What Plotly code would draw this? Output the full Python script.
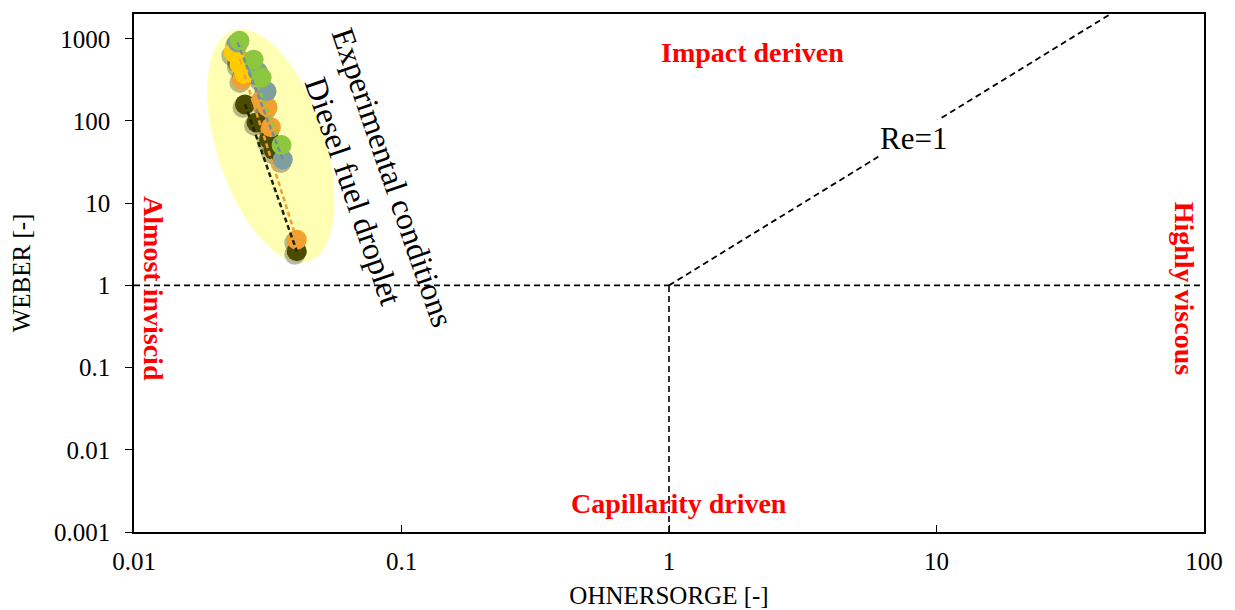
import numpy as np
import plotly.graph_objects as go

# ---- data (Ohnesorge, Weber) ----
dark_oh = [0.0260, 0.0287, 0.0320, 0.0333, 0.0406]
dark_we = [159, 96, 60, 44, 2.6]
orange_oh = [0.0248, 0.0253, 0.0300, 0.0316, 0.0325, 0.0406]
orange_we = [560, 320, 180, 147, 84, 3.6]
yellow_oh = [0.0236, 0.0248, 0.0259]
yellow_we = [678, 485, 370]
green_oh = [0.0248, 0.0280, 0.0300, 0.0356]
green_we = [946, 557, 338, 51]
teal_oh = [0.0244, 0.0290, 0.0313, 0.0360]
teal_we = [900, 400, 230, 34]

series = [
    ("dark", dark_oh, dark_we, "#4b4b00", "#222200"),
    ("orange", orange_oh, orange_we, "#f2a030", "#f2a030"),
    ("yellow", yellow_oh, yellow_we, "#ffcc00", "#ffcc00"),
    ("teal", teal_oh, teal_we, "#7f9f9f", "#6f8fa0"),
    ("green", green_oh, green_we, "#8dc63f", "#8dc63f"),
]

x_ticks = [0.01, 0.1, 1, 10, 100]
x_ticktext = ["0.01", "0.1", "1", "10", "100"]
y_ticks = [0.001, 0.01, 0.1, 1, 10, 100, 1000]
y_ticktext = ["0.001", "0.01", "0.1", "1", "10", "100", "1000"]

W, H = 1227, 602
ml, mr, mt, mb = 126, 31, 4, 78
xr = [-2, 2]
yr = [-3, np.log10(2000)]
px_per_dec_x = (W - ml - mr) / (xr[1] - xr[0])
px_per_dec_y = (H - mt - mb) / (yr[1] - yr[0])

fig = go.Figure()

# highlight ellipse (computed in log space)
t = np.linspace(0, 2 * np.pi, 200)
a, b = 122, 54  # semi axes in px
ang = np.deg2rad(18)
cx_log, cy_log = np.log10(0.0325), np.log10(50)
dx = (b * np.cos(t)) * np.cos(ang) + (a * np.sin(t)) * np.sin(ang)
dy = -(b * np.cos(t)) * np.sin(ang) + (a * np.sin(t)) * np.cos(ang)
ex = 10 ** (cx_log + dx / px_per_dec_x)
ey = 10 ** (cy_log - dy / px_per_dec_y)
fig.add_trace(go.Scatter(x=ex, y=ey, mode="lines", fill="toself",
                         fillcolor="rgba(255,255,130,0.6)", line=dict(width=0),
                         hoverinfo="skip", showlegend=False))

# reference lines
dash_ref = "6px,4px"
fig.add_trace(go.Scatter(x=[0.01, 100], y=[1, 1], mode="lines",
                         line=dict(color="black", width=1.6, dash=dash_ref), showlegend=False))
fig.add_trace(go.Scatter(x=[1, 1], y=[0.001, 1], mode="lines",
                         line=dict(color="black", width=1.6, dash=dash_ref), showlegend=False))
re_oh = [1, np.sqrt(2000)]
fig.add_trace(go.Scatter(x=re_oh, y=[o ** 2 for o in re_oh], mode="lines",
                         line=dict(color="black", width=1.8, dash=dash_ref), showlegend=False))

# shadows
sx = 10 ** (-2 / px_per_dec_x)
sy = 10 ** (-3 / px_per_dec_y)
for name, xs, ys, col, lcol in series:
    fig.add_trace(go.Scatter(x=[v * sx for v in xs], y=[v * sy for v in ys], mode="markers",
                             marker=dict(size=21, color="rgba(0,0,0,0.28)", line=dict(width=0)),
                             showlegend=False, hoverinfo="skip"))
# series markers
for name, xs, ys, col, lcol in series:
    fig.add_trace(go.Scatter(x=xs, y=ys, mode="markers",
                             marker=dict(size=20, color=col, line=dict(width=0)),
                             name=name, showlegend=False))
# trend lines
for name, xs, ys, col, lcol in series:
    fig.add_trace(go.Scatter(x=[xs[0], xs[-1]], y=[ys[0], ys[-1]], mode="lines",
                             line=dict(color=lcol, width=2.5, dash="5px,3px"),
                             showlegend=False, hoverinfo="skip"))

red_font = dict(family="Liberation Serif", size=28, color="red")
ann = [
    dict(x=np.log10(2.06), y=np.log10(676), text="<b>Impact deriven</b>", font=red_font),
    dict(x=np.log10(1.087), y=np.log10(0.00225), text="<b>Capillarity driven</b>", font=red_font),
    dict(x=np.log10(0.0118), y=np.log10(0.92), text="<b>Almost inviscid</b>", font=red_font, textangle=90),
    dict(x=np.log10(84.7), y=np.log10(0.92), text="<b>Highly viscous</b>", font=red_font, textangle=90),
    dict(x=np.log10(8.2), y=np.log10(62), text="Re=1",
         font=dict(family="Liberation Serif", size=31, color="black"), bgcolor="white"),
    dict(x=np.log10(0.078), y=np.log10(17), text="Experimental conditions<br>Diesel fuel droplet",
         font=dict(family="Liberation Serif", size=32, color="black"), textangle=71),
]
for a_ in ann:
    a_.update(xref="x", yref="y", showarrow=False)
    fig.add_annotation(**a_)

fig.update_layout(
    width=W, height=H,
    margin=dict(l=ml, r=mr, t=mt, b=mb),
    plot_bgcolor="white", paper_bgcolor="white",
    font=dict(family="Liberation Serif", size=24, color="black"),
    xaxis=dict(type="log", range=xr, tickvals=x_ticks, ticktext=x_ticktext,
               ticks="inside", ticklen=7, tickcolor="black", showline=True, mirror=True,
               linecolor="black", linewidth=1.5, showgrid=False, zeroline=False,
               ticklabelstandoff=6, tickfont=dict(size=25),
               title=dict(text="OHNERSORGE [-]", standoff=13,
                          font=dict(family="Liberation Serif", size=25))),
    yaxis=dict(type="log", range=yr, tickvals=y_ticks, ticktext=y_ticktext,
               ticks="outside", ticklen=7, tickcolor="black", showline=True, mirror=True,
               linecolor="black", linewidth=1.5, showgrid=False, zeroline=False,
               ticklabelstandoff=10, tickfont=dict(size=25),
               title=dict(text="WEBER [-]", standoff=16,
                          font=dict(family="Liberation Serif", size=25))),
)

fig.write_html("out.html")
